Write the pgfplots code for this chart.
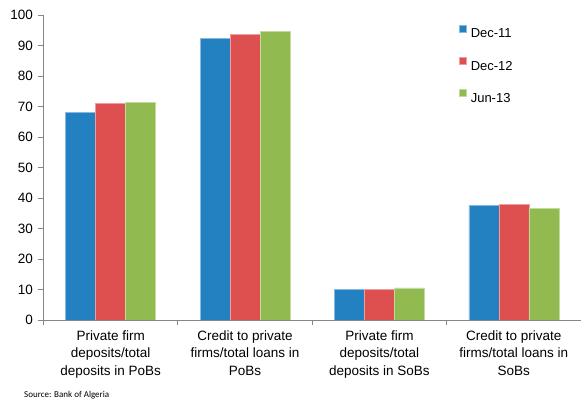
\documentclass[border=0pt]{standalone}
\usepackage{pgfplots}
\pgfplotsset{compat=1.18}
\usepackage{fontspec}
\setmainfont{Liberation Sans}
\newfontfamily\carlito{Carlito}
\definecolor{cblue}{RGB}{36,129,193}
\definecolor{cred}{RGB}{222,80,80}
\definecolor{cgreen}{RGB}{145,187,80}
\definecolor{axgray}{RGB}{134,134,134}
\begin{document}
\begin{tikzpicture}
\useasboundingbox (0,0) rectangle (581bp,399bp);
\begin{axis}[
  at={(43.5bp,79bp)}, anchor=south west,
  scale only axis, width=537.5bp, height=305bp,
  ybar=0pt, bar width=30bp,
  xmin=-0.5, xmax=3.5, ymin=0, ymax=100,
  axis lines*=left,
  axis line style={draw=axgray, line width=0.8bp},
  ytick={0,10,...,100},
  ytick style={draw=axgray, line width=0.8bp},
  major tick length=5bp,
  tick align=outside,
  /pgf/number format/assume math mode=true,
  yticklabel style={font=\fontsize{13.5bp}{16bp}\selectfont, xshift=-2bp},
  xtick={0,1,2,3},
  xticklabels={{Private firm\\deposits/total\\deposits in PoBs},{Credit to private\\firms/total loans in\\PoBs},{Private firm\\deposits/total\\deposits in SoBs},{Credit to private\\firms/total loans in\\SoBs}},
  xticklabel style={align=center, font=\fontsize{13.5bp}{17.5bp}\selectfont, yshift=-2bp},
  major x tick style={draw=none},
  extra x ticks={-0.5,0.5,1.5,2.5},
  extra x tick labels={},
  extra x tick style={major x tick style={draw=axgray, line width=0.8bp}, tick align=outside},
  legend style={at={(0.773,0.969)}, anchor=north west, draw=none, fill=none,
    inner sep=0pt, row sep=19bp, column sep=4bp,
    nodes={inner sep=0pt, text height=10bp, text depth=0pt},
    font=\fontsize{13bp}{16bp}\selectfont},
  legend cell align=left,
  legend image code/.code={\fill[#1] (0bp,1bp) rectangle (7bp,8bp);},
]
\addplot[fill=cblue, draw=cblue!55!white, line width=0.6bp] coordinates {(0,68.1) (1,92.3) (2,10.0) (3,37.7)};
\addplot[fill=cred, draw=cred!55!white, line width=0.6bp] coordinates {(0,71.1) (1,93.7) (2,10.0) (3,37.8)};
\addplot[fill=cgreen, draw=cgreen!55!white, line width=0.6bp] coordinates {(0,71.4) (1,94.5) (2,10.5) (3,36.7)};
\legend{Dec-11,Dec-12,Jun-13}
\end{axis}
\node[anchor=base west, inner sep=0pt, font=\carlito\fontsize{9bp}{11bp}\selectfont] at (24bp,1.5bp) {Source: Bank of Algeria};
\end{tikzpicture}
\end{document}
